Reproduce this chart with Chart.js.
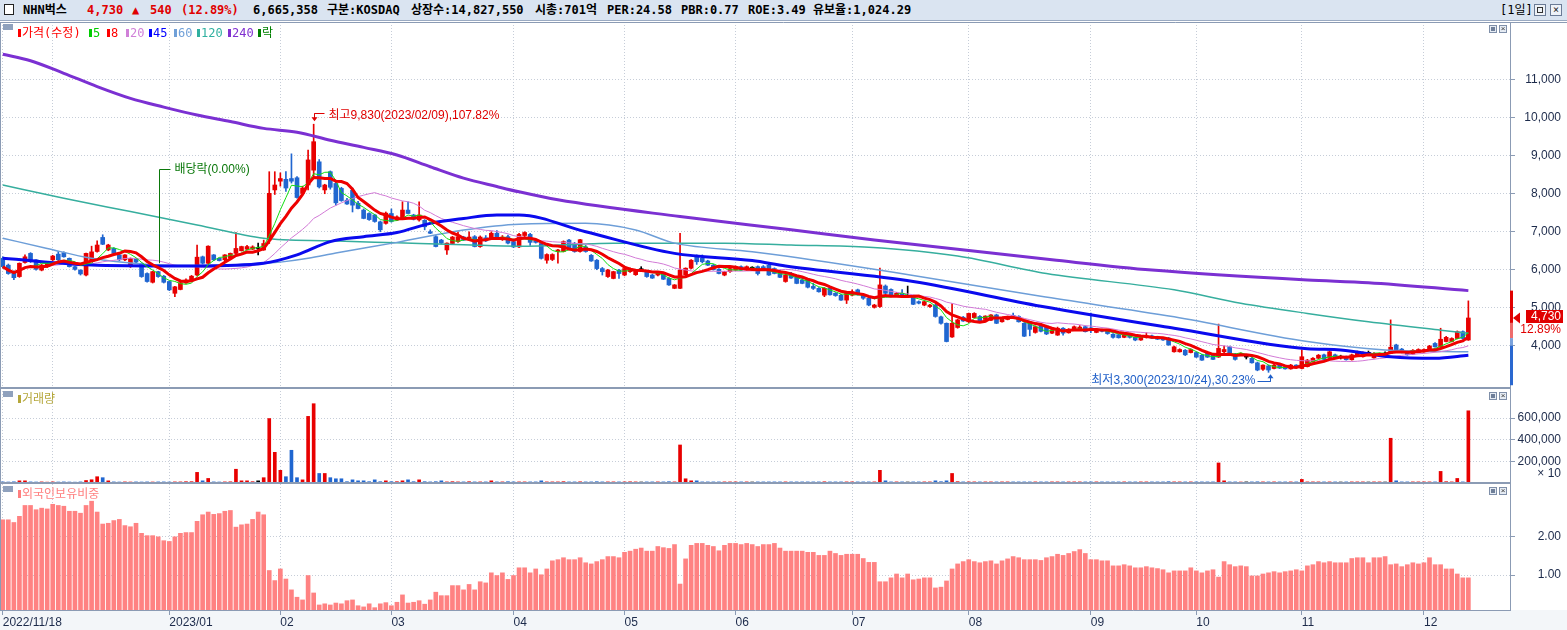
<!DOCTYPE html>
<html lang="ko">
<head>
<meta charset="utf-8">
<title>NHN벅스</title>
<script src="https://cdn.jsdelivr.net/npm/chart.js@4.4.1/dist/chart.umd.min.js"></script>
<style>
  html, body { margin:0; padding:0; background:#ffffff; }
  #wrap { position:relative; width:1567px; height:630px; overflow:hidden; font-family:"Liberation Sans","Noto Sans CJK KR",sans-serif; }
  #chart { position:absolute; left:0; top:0; }
  #hdr { position:absolute; left:0; top:0; width:1567px; height:21px; background:#dae4f1; border-bottom:1px solid #9aaac2; box-sizing:border-box; font-family:"DejaVu Sans Mono","Noto Sans CJK KR",monospace; font-size:12px; font-weight:bold; color:#000; z-index:2; }
  #hdr span { position:absolute; top:3px; line-height:14px; white-space:nowrap; }
  #hdr .r { color:#e00000; }
  .chk { position:absolute; left:4px; top:4px; width:10px; height:11px; background:#fff; border:1px solid #222; box-sizing:border-box; }
  .hb { position:absolute; top:4px; width:12px; height:12px; border:1px solid #6b7b96; background:#eef2f8; box-sizing:border-box; font-size:10px; line-height:10px; text-align:center; color:#222; font-weight:normal; }
  .lg { position:absolute; white-space:nowrap; font-family:"DejaVu Sans Mono","Noto Sans CJK KR",monospace; font-size:12px; line-height:14px; z-index:2; }
  .mk { position:absolute; width:3px; height:8px; z-index:2; }
  .ico { position:absolute; left:3px; width:10px; height:6px; background:#8fa1bd; z-index:2; }
  .pb { position:absolute; width:8px; height:8px; border:1px solid #7f8fa9; background:#e6ecf4; box-sizing:border-box; z-index:2; font-size:8px; line-height:6px; text-align:center; color:#333; }
  .pb i { position:absolute; left:1px; top:1px; width:4px; height:4px; background:#6f7f99; }
</style>
</head>
<body>
<div id="wrap">
  <canvas id="chart" width="1567" height="630"></canvas>
  <div id="hdr">
    <div class="chk"></div>
    <span style="left:23px">NHN벅스</span>
    <span class="r" style="left:87px">4,730</span>
    <span class="r" style="left:132px">▲</span>
    <span class="r" style="left:150px">540</span>
    <span class="r" style="left:181px">(12.89%)</span>
    <span style="left:253px">6,665,358</span>
    <span style="left:327px">구분:KOSDAQ</span>
    <span style="left:411px">상장수:14,827,550</span>
    <span style="left:535px">시총:701억</span>
    <span style="left:607px">PER:24.58</span>
    <span style="left:681px">PBR:0.77</span>
    <span style="left:748px">ROE:3.49</span>
    <span style="left:813px">유보율:1,024.29</span>
    <span style="left:1500px;font-weight:normal">[1일]</span>
    <div class="hb" style="left:1534px"><div style="position:absolute;left:2px;top:2px;width:6px;height:6px;border:1px solid #333;box-sizing:border-box"></div></div>
    <div class="hb" style="left:1550px">×</div>
  </div>
  <div id="overlay"></div>
</div>
<script>
// ---------------- DATA ----------------
const tradingDays = {
  '2022/11': [18,21,22,23,24,25,28,29,30],
  '2022/12': [1,2,5,6,7,8,9,12,13,14,15,16,19,20,21,22,23,26,27,28,29],
  '2023/01': [2,3,4,5,6,9,10,11,12,13,16,17,18,19,20,25,26,27,30,31],
  '2023/02': [1,2,3,6,7,8,9,10,13,14,15,16,17,20,21,22,23,24,27,28],
  '2023/03': [2,3,6,7,8,9,10,13,14,15,16,17,20,21,22,23,24,27,28,29,30,31],
  '2023/04': [3,4,5,6,7,10,11,12,13,14,17,18,19,20,21,24,25,26,27,28],
  '2023/05': [2,3,4,8,9,10,11,12,15,16,17,18,19,22,23,24,25,26,30,31],
  '2023/06': [1,2,5,7,8,9,12,13,14,15,16,19,20,21,22,23,26,27,28,29,30],
  '2023/07': [3,4,5,6,7,10,11,12,13,14,17,18,19,20,21,24,25,26,27,28,31],
  '2023/08': [1,2,3,4,7,8,9,10,11,14,16,17,18,21,22,23,24,25,28,29,30,31],
  '2023/09': [1,4,5,6,7,8,11,12,13,14,15,18,19,20,21,22,25,26,27],
  '2023/10': [4,5,6,10,11,12,13,16,17,18,19,20,23,24,25,26,27,30,31],
  '2023/11': [1,2,3,6,7,8,9,10,13,14,15,16,17,20,21,22,23,24,27,28,29,30],
  '2023/12': [1,4,5,6,7,8,11,12,13]
};

const opens = [
6300,6120,5950,5820,6190,6430,6260,5990,6080,6260,
6410,6450,6300,6080,5990,5860,6260,6480,6850,6520,
6560,6390,6260,6080,6280,6170,5900,5670,5950,5830,
5690,5380,5480,5650,5730,5860,6340,6170,6390,6300,
6260,6300,6430,6500,6540,6540,6560,6520,6780,8100,
8330,8380,8400,8420,8010,8230,8620,8840,8100,8580,
8270,8140,7830,8090,7750,7570,7480,7440,7260,7220,
7480,7310,7350,7570,7440,7310,7300,7000,6870,6780,
6520,6690,6740,6860,6820,6870,6610,6840,6840,6960,
6790,6870,6740,6600,6900,6930,6760,6690,6250,6270,
6480,6480,6780,6690,6480,6600,6380,6250,6030,5820,
5770,5990,5860,5950,5870,6000,5950,5860,5860,5900,
5770,5510,5510,5860,6040,6340,6300,6230,6120,6010,
5860,5950,5990,6080,5990,6040,6080,6080,6120,6030,
5960,5690,5900,5820,5730,5750,5560,5510,5330,5510,
5380,5330,5200,5330,5470,5330,5250,5010,5030,5570,
5480,5330,5380,5290,5310,5160,5070,5030,5070,4760,
4590,4230,4480,4750,4630,4740,4770,4690,4670,4810,
4630,4690,4800,4770,4590,4600,4350,4550,4520,4330,
4280,4460,4340,4410,4440,4500,4470,4350,4420,4410,
4300,4290,4220,4280,4220,4150,4220,4260,4230,4200,
4200,3840,3840,3880,3820,3820,3750,3800,3750,3700,
3840,3970,3780,3760,3700,3670,3550,3380,3470,3400,
3490,3450,3390,3490,3400,3450,3580,3670,3760,3690,
3760,3690,3710,3630,3720,3710,3800,3680,3760,3780,
3800,4020,3910,3840,3780,3820,3840,3890,4060,3960,
4110,4110,4190,4370,4150];

const highs = [
6340,6150,5970,6180,6390,6450,6270,6140,6180,6380,
6480,6470,6310,6090,6000,6440,6620,6760,6920,6670,
6580,6400,6400,6310,6300,6180,5920,5960,5960,5850,
5700,5560,5670,5760,5850,6650,6360,6630,6400,6310,
6400,6440,6980,6620,6640,6630,6700,6780,8580,8580,
8550,8580,9050,8450,8200,9150,9830,8900,8250,8600,
8300,8170,7880,8150,7800,7600,7500,7460,7280,7520,
7600,7420,7790,7790,7460,7790,7320,7050,6900,6800,
6710,6880,7000,6880,7000,6900,6890,6900,7000,7030,
6900,6910,6760,6960,7000,6960,6800,6720,6420,6420,
6540,6760,6800,6720,6800,6640,6400,6270,6060,6010,
5960,6010,6050,6050,6010,6080,5970,5880,5960,5930,
5790,5610,6960,6050,6270,6390,6390,6250,6140,6030,
5960,6050,6100,6100,6100,6080,6100,6110,6140,6050,
5990,5880,5930,5840,5820,5770,5640,5530,5530,5530,
5400,5350,5420,5470,5490,5350,5260,5090,6040,5600,
5500,5400,5480,5570,5330,5180,5180,5090,5090,4780,
4600,5110,4700,4770,4860,4870,4790,4790,4820,4830,
4740,4780,4860,4790,4610,4620,4520,4590,4540,4450,
4490,4480,4450,4520,4530,4520,4860,4440,4440,4430,
4320,4300,4310,4300,4240,4270,4340,4280,4250,4220,
4220,3990,3920,3900,3920,3840,3770,3810,3770,4570,
3990,3990,3800,3810,3740,3690,3570,3500,3490,3510,
3510,3470,3510,3500,3890,3640,3690,3770,3780,3860,
3780,3750,3730,3780,3860,3840,3860,3820,3810,3840,
4680,4040,3930,3860,3900,3920,3920,4010,4080,4460,
4250,4210,4390,4390,5180];

const lows = [
6050,5880,5740,5800,6170,6190,5990,5970,6060,6240,
6240,6330,6070,5990,5860,5840,6240,6460,6660,6500,
6420,6240,6240,6060,6180,5800,5670,5650,5800,5650,
5450,5290,5470,5640,5720,5840,6150,6150,6240,6230,
6240,6290,6420,6490,6530,6530,6390,6510,6690,7980,
8200,8060,8280,7880,7990,8100,8450,8150,8000,8120,
7700,7800,7720,7520,7600,7340,7300,7250,7000,7200,
7250,7290,7330,7480,7310,7280,7050,6950,6600,6680,
6400,6680,6720,6770,6800,6600,6590,6740,6820,6860,
6770,6680,6580,6580,6850,6640,6700,6280,6170,6240,
6170,6470,6550,6460,6460,6460,6220,6000,5860,5800,
5760,5770,5840,5930,5850,5960,5800,5770,5840,5740,
5590,5500,5500,5840,6020,6140,6180,6110,5990,5890,
5840,5930,5980,5980,5980,5990,5860,5980,5850,5890,
5790,5670,5770,5630,5630,5520,5480,5410,5290,5330,
5300,5190,5110,5310,5330,5220,5050,4990,5010,5370,
5290,5310,5280,5280,5080,5100,5050,5010,4750,4570,
4100,4220,4460,4640,4610,4730,4620,4670,4660,4580,
4620,4680,4760,4620,4240,4260,4330,4360,4290,4320,
4270,4280,4330,4400,4420,4360,4340,4340,4360,4300,
4200,4200,4210,4200,4130,4140,4200,4190,4160,4140,
4010,3830,3830,3740,3810,3690,3610,3690,3630,3690,
3820,3780,3620,3750,3650,3540,3340,3350,3300,3390,
3400,3380,3380,3420,3390,3440,3570,3660,3630,3680,
3700,3650,3620,3620,3710,3700,3750,3670,3750,3740,
3790,3880,3810,3750,3770,3810,3830,3880,3960,3950,
4100,4100,4180,4170,4140];

const closes = [
6080,5900,5790,6170,6340,6210,6010,6120,6170,6360,
6260,6340,6080,6010,5890,6430,6470,6650,6670,6650,
6430,6260,6390,6300,6200,5820,5690,5950,5820,5670,
5470,5550,5660,5730,5830,6330,6170,6620,6260,6240,
6390,6430,6560,6610,6610,6600,6560,6690,8010,8230,
8400,8150,8330,7900,8150,8890,9370,8180,8230,8170,
7760,7820,7730,7700,7610,7350,7320,7270,7050,7490,
7270,7390,7570,7480,7330,7440,7130,6960,6610,6700,
6700,6860,6870,6780,6860,6610,6860,6760,6960,6870,
6860,6700,6600,6930,6980,6720,6720,6300,6400,6400,
6520,6740,6570,6480,6790,6480,6230,6030,5950,5990,
5950,5900,6030,6030,5990,6000,5820,5780,5950,5750,
5600,5600,5990,6040,6250,6210,6210,6120,6000,5900,
5950,6030,6080,5990,6080,6040,5900,5990,5860,5900,
5800,5860,5780,5640,5640,5540,5510,5420,5510,5340,
5320,5200,5420,5420,5340,5250,5070,5070,5600,5380,
5300,5380,5290,5290,5090,5120,5160,5070,4770,4590,
4110,4590,4680,4650,4850,4850,4630,4780,4810,4590,
4720,4770,4770,4630,4250,4430,4500,4380,4310,4420,
4460,4330,4430,4500,4490,4370,4400,4420,4380,4320,
4220,4210,4290,4220,4150,4250,4260,4200,4170,4150,
4020,3970,3900,3760,3900,3700,3620,3700,3640,3930,
3900,3800,3640,3800,3700,3550,3360,3490,3360,3490,
3410,3390,3490,3430,3710,3620,3670,3750,3640,3840,
3710,3690,3630,3760,3840,3820,3800,3800,3790,3780,
3960,3890,3820,3760,3880,3900,3900,3990,3970,4170,
4220,4190,4370,4190,4730];

// volume, shown in units of x10 shares
const volumes = [
10000,9000,11000,20000,20000,10000,9000,10000,8000,10000,
9000,10000,9000,8000,10000,23000,30000,58000,49000,20000,
10000,9000,10000,9000,10000,9000,10000,9000,10000,10000,
9000,10000,10000,12000,12000,98000,20000,42000,10000,9000,
10000,11000,127000,20000,20000,12000,20000,49000,595000,283000,
117000,58000,302000,49000,29000,615000,732000,88000,88000,49000,
39000,39000,12000,29000,20000,20000,12000,29000,12000,20000,
12000,12000,20000,29000,12000,29000,12000,10000,12000,20000,
10000,12000,10000,10000,12000,10000,10000,10000,20000,10000,
10000,12000,10000,10000,10000,10000,10000,20000,10000,10000,
10000,12000,10000,10000,11000,10000,10000,12000,10000,10000,
10000,10000,10000,11000,10000,9000,10000,10000,10000,10000,
12000,10000,351000,39000,20000,20000,10000,10000,10000,10000,
10000,10000,10000,10000,10000,9000,10000,10000,10000,10000,
10000,10000,10000,10000,10000,10000,10000,10000,11000,10000,
10000,10000,10000,10000,10000,10000,10000,10000,117000,20000,
10000,10000,10000,9000,10000,10000,10000,10000,20000,12000,
20000,88000,12000,10000,10000,10000,10000,10000,10000,10000,
10000,10000,10000,10000,10000,10000,10000,10000,10000,10000,
10000,10000,10000,10000,10000,10000,10000,10000,10000,10000,
10000,10000,10000,10000,10000,10000,10000,10000,10000,10000,
12000,10000,10000,10000,10000,10000,10000,10000,10000,185000,
20000,10000,10000,9000,10000,10000,11000,10000,10000,10000,
10000,10000,10000,10000,33000,10000,10000,10000,10000,10000,
10000,9000,10000,10000,10000,10000,9000,10000,10000,9000,
413000,20000,10000,10000,10000,10000,10000,10000,10000,107000,
12000,10000,42000,10000,666536];

const foreignRatio = [
2.43,2.43,2.36,2.52,2.80,2.80,2.69,2.73,2.71,2.83,
2.80,2.78,2.65,2.65,2.60,2.80,2.91,2.63,2.32,2.34,
2.41,2.44,2.28,2.25,2.34,2.08,2.02,2.02,1.99,1.89,
1.87,1.99,2.08,2.10,2.10,2.39,2.56,2.63,2.57,2.59,
2.65,2.67,2.24,2.30,2.32,2.44,2.63,2.56,1.12,0.86,
1.16,0.90,0.62,0.43,0.36,0.99,0.54,0.23,0.26,0.23,
0.28,0.26,0.34,0.36,0.21,0.18,0.26,0.16,0.26,0.29,
0.21,0.30,0.49,0.28,0.30,0.34,0.25,0.36,0.56,0.47,
0.47,0.73,0.73,0.62,0.76,0.62,0.83,0.80,1.06,0.99,
1.06,0.89,0.99,1.19,1.19,1.06,1.16,1.01,1.16,1.37,
1.40,1.45,1.40,1.40,1.45,1.32,1.29,1.35,1.40,1.48,
1.48,1.45,1.59,1.62,1.67,1.70,1.62,1.62,1.74,1.71,
1.69,1.79,0.77,1.42,1.77,1.82,1.82,1.77,1.74,1.63,
1.77,1.82,1.82,1.79,1.82,1.79,1.74,1.79,1.79,1.82,
1.70,1.62,1.62,1.62,1.62,1.59,1.59,1.51,1.51,1.62,
1.56,1.51,1.54,1.54,1.54,1.43,1.33,1.33,0.83,0.83,
0.93,1.03,0.93,1.03,0.88,0.90,0.93,0.93,0.67,0.69,
0.85,1.16,1.29,1.35,1.40,1.35,1.32,1.35,1.37,1.29,
1.37,1.42,1.48,1.45,1.40,1.40,1.40,1.38,1.45,1.48,
1.54,1.51,1.56,1.61,1.66,1.56,1.40,1.40,1.37,1.37,
1.24,1.24,1.27,1.24,1.19,1.19,1.22,1.19,1.17,1.14,
1.06,1.11,1.11,1.11,1.19,1.11,1.06,1.11,1.14,0.95,
1.35,1.27,1.22,1.24,1.22,0.98,0.98,1.03,1.06,1.09,
1.06,1.09,1.11,1.14,1.11,1.24,1.27,1.35,1.32,1.35,
1.32,1.32,1.32,1.43,1.45,1.45,1.32,1.45,1.45,1.48,
1.27,1.29,1.22,1.27,1.32,1.29,1.32,1.45,1.27,1.27,
1.16,1.16,1.03,0.93,0.93];

// long moving averages: [day index, value]
const ma45Keys = [[0,6300],[17,6120],[35,6100],[47,6170],[53,6390],[59,6740],[65,6870],[71,6980],[77,7220],[83,7350],[89,7440],[93,7440],[105,7000],[121,6430],[135,6240],[141,6100],[164,5690],[187,5040],[211,4460],[235,3920],[241,3890],[250,3710],[258,3670],[264,3750]];
const ma60Keys = [[0,6830],[8,6560],[16,6300],[25,6150],[35,6110],[45,6150],[50,6200],[55,6300],[60,6440],[71,6720],[83,7045],[93,7200],[105,7220],[114,7045],[121,6700],[135,6475],[141,6360],[164,5850],[187,5300],[211,4760],[235,4110],[249,3890],[264,3840]];
const ma120Keys = [[0,8230],[11,7880],[23,7530],[35,7180],[47,6830],[59,6760],[71,6710],[83,6660],[93,6620],[110,6700],[130,6700],[142,6650],[156,6590],[172,6360],[188,5900],[211,5470],[223,5120],[235,4850],[246,4630],[259,4410],[264,4330]];
const ma240Keys = [[0,11670],[5,11500],[11,11170],[17,10820],[23,10510],[29,10280],[35,10070],[41,9900],[47,9720],[53,9620],[59,9410],[65,9220],[71,9020],[77,8710],[83,8410],[89,8190],[93,8050],[100,7840],[122,7400],[142,7050],[157,6780],[189,6260],[207,5990],[235,5730],[246,5660],[264,5450]];

const priceTicks = [4000,5000,6000,7000,8000,9000,10000,11000];
const volumeTicks = [200000,400000,600000];
const volumeUnitTick = 88000;          // where the "× 10" unit label sits
const foreignTicks = [1.00, 2.00];
const axisBandValues = [5450, 4600, 4200, 4000, 2960];

const highIdx = 56, lowIdx = 228, dividendIdx = 28;
const highText = '최고9,830(2023/02/09),107.82%';
const lowText = '최저3,300(2023/10/24),30.23%';
const dividendText = '배당락(0.00%)';

// ---------------- BUILD ----------------
const dates = [];
for (const [ym, days] of Object.entries(tradingDays)) for (const d of days) dates.push(ym + '/' + String(d).padStart(2, '0'));
const padSlots = 7;
const labels = dates.concat(Array(padSlots).fill(''));
const N = dates.length;

function monthStart(i) {
  if (i >= N) return false;
  if (i === 0) return true;
  return dates[i].split('/')[1] !== dates[i - 1].split('/')[1];
}
function tickText(i) {
  if (!monthStart(i)) return '';
  if (i === 0) return dates[0];
  if (i < 15) return '';                       // too close to the first date label
  const [y, m] = dates[i].split('/');
  const py = dates[i - 1].split('/')[0];
  return y !== py ? y + '/' + m : m;
}

function movingAverage(values, n) {
  return values.map((_, i) => {
    const w = values.slice(Math.max(0, i - n + 1), i + 1);
    return w.reduce((a, b) => a + b, 0) / w.length;
  });
}
function fromKeys(keys) {
  const a = new Array(N).fill(null);
  keys.forEach(([i, v]) => { a[i] = v; });
  return a;
}

const UP = '#e80000', DOWN = '#2066d0', EVEN = '#000000';
const candleColors = closes.map((c, i) => c > opens[i] ? UP : (c < opens[i] ? DOWN : EVEN));

const FONT_FAMILY = '"Liberation Sans","Noto Sans CJK KR",sans-serif';
const FONT = { family: FONT_FAMILY, size: 12 };
const AXIS = '#8b9bb4', GRID = '#c6cdd8', TXT = '#1d2b4b';
const AXIS_W = 51, TICK_LEN = 5;
Chart.defaults.font.family = FONT_FAMILY;

const mctx = document.createElement('canvas').getContext('2d');
mctx.font = '12px ' + FONT_FAMILY;
function labelPad(texts) {
  const w = Math.max(...texts.map(t => mctx.measureText(t).width));
  return AXIS_W - TICK_LEN - w - 1;
}
const fmtInt = v => Math.round(v).toLocaleString('en-US');

function yAxis(weight, min, max, tickValues, fmt, hiddenTick) {
  return {
    type: 'linear', position: 'right', stack: 'panes', stackWeight: weight, min, max,
    afterBuildTicks: s => { s.ticks = tickValues.map(v => ({ value: v })); },
    afterFit: s => { s.width = AXIS_W; s.paddingTop = 0; s.paddingBottom = 0; },
    ticks: { autoSkip: false, callback: v => fmt(v), font: FONT, color: TXT, crossAlign: 'far', padding: labelPad(tickValues.map(fmt)) },
    grid: {
      color: c => (c.tick && c.tick.value === hiddenTick) ? 'rgba(0,0,0,0)' : GRID,
      lineWidth: 1, drawTicks: true, tickLength: TICK_LEN,
      tickColor: c => (c.tick && c.tick.value === hiddenTick) ? 'rgba(0,0,0,0)' : AXIS
    },
    border: { display: true, color: AXIS, width: 1, dash: [1, 2] }
  };
}

function maLine(label, data, color, width, order, smooth) {
  return {
    type: 'line', label, data, yAxisID: 'y', borderColor: color, borderWidth: width,
    pointRadius: 0, spanGaps: true, order, fill: false,
    tension: smooth ? 0.4 : 0, cubicInterpolationMode: smooth ? 'monotone' : 'default'
  };
}

const panelPlugin = {
  id: 'panels',
  beforeDraw(chart) {
    const { ctx, chartArea } = chart;
    ctx.save();
    ctx.fillStyle = '#f3f6f9';
    ctx.fillRect(0, chartArea.bottom, chart.width, chart.height - chartArea.bottom);
    ctx.restore();
  },
  afterDatasetsDraw(chart) {
    const { ctx } = chart;
    const xs = chart.scales.x, ys = chart.scales.y;
    ctx.save();
    ctx.font = '12px ' + FONT_FAMILY;
    ctx.textBaseline = 'middle';
    ctx.lineWidth = 1;
    // highest
    let ax = Math.round(xs.getPixelForValue(highIdx)) + 0.5, ay = ys.getPixelForValue(highs[highIdx]);
    ctx.strokeStyle = ctx.fillStyle = '#e00000';
    ctx.beginPath();
    ctx.moveTo(ax, Math.round(ay - 11) + 0.5); ctx.lineTo(ax + 10, Math.round(ay - 11) + 0.5);
    ctx.moveTo(ax, ay - 11); ctx.lineTo(ax, ay - 6);
    ctx.stroke();
    ctx.beginPath(); ctx.moveTo(ax - 3, ay - 7); ctx.lineTo(ax + 3, ay - 7); ctx.lineTo(ax, ay - 3); ctx.closePath(); ctx.fill();
    ctx.textAlign = 'left';
    ctx.fillText(highText, ax + 14, ay - 9);
    // lowest
    ax = Math.round(xs.getPixelForValue(lowIdx)) + 1.5; ay = ys.getPixelForValue(lows[lowIdx]);
    ctx.strokeStyle = ctx.fillStyle = '#1f5fc8';
    ctx.beginPath();
    ctx.moveTo(ax - 13, Math.round(ay + 9) + 0.5); ctx.lineTo(ax, Math.round(ay + 9) + 0.5);
    ctx.moveTo(ax, ay + 9.5); ctx.lineTo(ax, ay + 5);
    ctx.stroke();
    ctx.beginPath(); ctx.moveTo(ax - 3, ay + 6); ctx.lineTo(ax + 3, ay + 6); ctx.lineTo(ax, ay + 2); ctx.closePath(); ctx.fill();
    ctx.textAlign = 'right';
    ctx.fillText(lowText, ax - 15, ay + 8);
    // ex-dividend
    ax = Math.round(xs.getPixelForValue(dividendIdx)) + 1.5;
    const yb = ys.getPixelForValue(highs[dividendIdx]) - 8, yt = Math.round(yb - 94) + 0.5;
    ctx.strokeStyle = ctx.fillStyle = '#0a780a';
    ctx.beginPath();
    ctx.moveTo(ax, yb); ctx.lineTo(ax, yt); ctx.lineTo(ax + 11, yt);
    ctx.stroke();
    ctx.textAlign = 'left';
    ctx.fillText(dividendText, ax + 15, yt);
    ctx.restore();
  },
  afterDraw(chart) {
    const { ctx, chartArea } = chart;
    const ys = chart.scales.y, yv = chart.scales.yv, yf = chart.scales.yf;
    ctx.save();
    ctx.strokeStyle = AXIS; ctx.lineWidth = 1;
    ctx.beginPath();
    ctx.moveTo(chartArea.left + 0.5, chartArea.top); ctx.lineTo(chartArea.left + 0.5, chartArea.bottom);
    ctx.moveTo(0, chartArea.top + 0.5); ctx.lineTo(chart.width, chartArea.top + 0.5);
    ctx.stroke();
    ctx.lineWidth = 2;
    ctx.beginPath();
    for (const s of [yv, yf]) { const y = Math.round(s.top); ctx.moveTo(0, y); ctx.lineTo(chartArea.right + 1, y); }
    ctx.stroke();
    // colored band on the price axis
    const bandColors = ['#e00000', '#ee6c6c', '#7aa2dc', '#2a68d0'];
    for (let k = 0; k < bandColors.length; k++) {
      const y1 = ys.getPixelForValue(axisBandValues[k]), y2 = ys.getPixelForValue(axisBandValues[k + 1]);
      ctx.fillStyle = bandColors[k];
      ctx.fillRect(chartArea.right, y1, 3, y2 - y1);
    }
    // current price marker
    const last = closes[N - 1], prev = closes[N - 2];
    const pct = ((last - prev) / prev * 100).toFixed(2) + '%';
    const py = ys.getPixelForValue(last);
    const bx = chartArea.right + 16, bw = chart.width - 4 - bx;
    ctx.fillStyle = '#e00000';
    ctx.fillRect(bx, Math.round(py - 8), bw, 13);
    ctx.beginPath(); ctx.moveTo(chartArea.right + 3, py); ctx.lineTo(chartArea.right + 10, py - 5.5); ctx.lineTo(chartArea.right + 10, py + 5.5); ctx.closePath(); ctx.fill();
    ctx.font = '12px ' + FONT_FAMILY; ctx.textBaseline = 'middle'; ctx.textAlign = 'right';
    ctx.fillStyle = '#ffffff';
    ctx.fillText(fmtInt(last), chart.width - 6, Math.round(py - 8) + 7);
    ctx.fillStyle = '#ffffff';
    ctx.fillRect(bx, Math.round(py - 8) + 13, bw, 13);
    ctx.fillStyle = '#e00000';
    ctx.fillText(pct, chart.width - 6, Math.round(py - 8) + 20);
    ctx.restore();
  }
};

const chart = new Chart(document.getElementById('chart'), {
  type: 'bar',
  data: {
    labels,
    datasets: [
      maLine('8', movingAverage(closes, 8), '#ee0000', 3, 1, false),
      maLine('5', movingAverage(closes, 5), '#11dd11', 1, 2, false),
      maLine('45', fromKeys(ma45Keys), '#0a0aee', 3, 3, true),
      maLine('20', movingAverage(closes, 20), '#d27ad6', 1, 4, false),
      maLine('60', fromKeys(ma60Keys), '#6d9ed8', 1.5, 5, true),
      maLine('120', fromKeys(ma120Keys), '#36ae9e', 1.5, 6, true),
      maLine('240', fromKeys(ma240Keys), '#7b30d2', 3, 7, true),
      { type: 'bar', label: 'body', data: opens.map((o, i) => [o, closes[i]]), yAxisID: 'y',
        backgroundColor: candleColors, barThickness: 4, minBarLength: 1, grouped: false, order: 8 },
      { type: 'bar', label: 'wick', data: lows.map((l, i) => [l, highs[i]]), yAxisID: 'y',
        backgroundColor: candleColors, barThickness: 1, grouped: false, order: 9 },
      { type: 'bar', label: '거래량', data: volumes, yAxisID: 'yv',
        backgroundColor: candleColors, barThickness: 3, grouped: false, order: 10 },
      { type: 'bar', label: '외국인보유비중', data: foreignRatio, yAxisID: 'yf',
        backgroundColor: '#ff8282', barThickness: 4, grouped: false, order: 11 }
    ]
  },
  options: {
    responsive: false, animation: false, events: [],
    layout: { padding: { top: 22, left: 0, right: 6, bottom: 0 } },
    plugins: { legend: { display: false }, tooltip: { enabled: false } },
    scales: {
      x: {
        type: 'category', offset: true,
        afterFit: s => { s.height = 20; s.paddingLeft = 0; s.paddingRight = 0; },
        ticks: { autoSkip: false, maxRotation: 0, minRotation: 0, align: 'start', padding: 0, font: FONT, color: TXT,
                 callback: (v, i) => tickText(i) },
        grid: { offset: false, color: c => monthStart(c.index) ? GRID : 'rgba(0,0,0,0)', lineWidth: 1,
                drawTicks: true, tickLength: 5, tickColor: c => tickText(c.index) ? AXIS : 'rgba(0,0,0,0)' },
        border: { display: true, color: AXIS, width: 1, dash: [1, 2] }
      },
      y: yAxis(366, 2887, 12520, priceTicks, fmtInt, null),
      yv: yAxis(95, 0, 877000, [volumeUnitTick].concat(volumeTicks), v => v === volumeUnitTick ? '× 10' : fmtInt(v), volumeUnitTick),
      yf: yAxis(127, 0.1, 3.38, foreignTicks, v => v.toFixed(2), null)
    }
  },
  plugins: [panelPlugin]
});

// ---------------- OVERLAY TEXT (legends, panel icons) ----------------
const ov = document.getElementById('overlay');
function addLegend(x, yc, text, color) {
  const m = document.createElement('div'); m.className = 'mk';
  m.style.left = x + 'px'; m.style.top = (yc - 4) + 'px'; m.style.background = color;
  const t = document.createElement('div'); t.className = 'lg';
  t.style.left = (x + 4) + 'px'; t.style.top = (yc - 7) + 'px'; t.style.color = color; t.textContent = text;
  ov.appendChild(m); ov.appendChild(t);
}
const a = chart.chartArea;
const pyLegend = a.top + 11;
[[18, '가격(수정)', '#ff0000'], [89, '5', '#00cc00'], [107, '8', '#ff0000'], [126, '20', '#d080d8'],
 [149, '45', '#0000ff'], [174, '60', '#70a0d8'], [197, '120', '#30b0a0'], [228, '240', '#8030d0'],
 [258, '락', '#008000']].forEach(([x, t, c]) => addLegend(x, pyLegend, t, c));

const topV = chart.scales.yv.top, topF = chart.scales.yf.top;
addLegend(18, topV + 11, '거래량', '#b5a73a');
addLegend(18, topF + 11, '외국인보유비중', '#ff7f7f');
for (const t of [a.top + 2, topV + 3, topF + 3]) {
  const ic = document.createElement('div'); ic.className = 'ico'; ic.style.top = t + 'px'; ov.appendChild(ic);
  const b1 = document.createElement('div'); b1.className = 'pb'; b1.style.left = (a.right - 21) + 'px'; b1.style.top = (t + 1) + 'px';
  b1.innerHTML = '<i></i>';
  const b2 = document.createElement('div'); b2.className = 'pb'; b2.style.left = (a.right - 11) + 'px'; b2.style.top = (t + 1) + 'px';
  b2.textContent = '×';
  ov.appendChild(b1); ov.appendChild(b2);
}
</script>
</body>
</html>
